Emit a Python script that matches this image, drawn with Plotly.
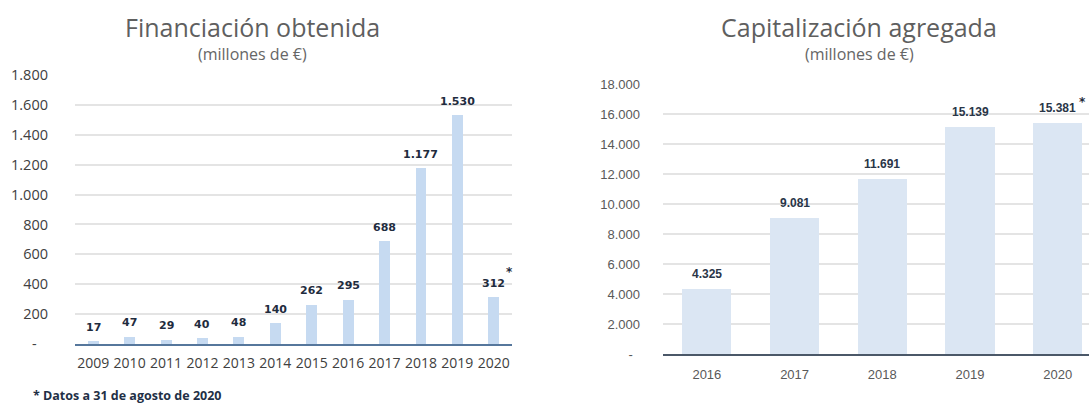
import plotly.graph_objects as go

W, H = 1089, 403
OFF = 0
FW, FH = W - OFF, H - OFF

# ---- data ----
fin_years = ["2009", "2010", "2011", "2012", "2013", "2014", "2015", "2016", "2017", "2018", "2019", "2020"]
fin_values = [17, 47, 29, 40, 48, 140, 262, 295, 688, 1177, 1530, 312]
fin_ticks = [0, 200, 400, 600, 800, 1000, 1200, 1400, 1600, 1800]
fin_ticktext = ["-\u00a0\u00a0\u00a0", "200", "400", "600", "800", "1.000", "1.200", "1.400", "1.600", "1.800"]

cap_years = ["2016", "2017", "2018", "2019", "2020"]
cap_values = [4325, 9081, 11691, 15139, 15381]
cap_ticks = [0, 2000, 4000, 6000, 8000, 10000, 12000, 14000, 16000, 18000]
cap_ticktext = ["-\u00a0\u00a0", "2.000", "4.000", "6.000", "8.000", "10.000", "12.000", "14.000", "16.000", "18.000"]

title_left = "Financiación obtenida"
title_right = "Capitalización agregada"
subtitle = "(millones de €)"
footnote = "* Datos a 31 de agosto de 2020"


def fmt(v):
    return f"{v:,}".replace(",", ".")


def px(x):
    return min(1.0, max(0.0, (x - OFF) / FW))


def py(y):
    return min(1.0, max(0.0, 1 - (y - OFF) / FH))


fig = go.Figure()
fig.add_trace(go.Bar(x=fin_years, y=fin_values, xaxis="x", yaxis="y",
                     marker=dict(color="#c6daf1", line=dict(width=0)), width=0.3,
                     hoverinfo="x+y"))
fig.add_trace(go.Bar(x=cap_years, y=cap_values, xaxis="x2", yaxis="y2",
                     marker=dict(color="#dbe6f3", line=dict(width=0)), width=0.56,
                     hoverinfo="x+y"))

annotations = []
for i, v in enumerate(fin_values):
    annotations.append(dict(x=i, y=v, xref="x", yref="y", text=fmt(v), showarrow=False,
                            yanchor="middle", yshift=14,
                            font=dict(family="DejaVu Sans", size=11, color="#1f2c3e", weight="bold")))
annotations.append(dict(x=len(fin_values) - 1, y=fin_values[-1], xref="x", yref="y", text="*", showarrow=False,
                        yanchor="middle", xshift=16, yshift=25,
                        font=dict(family="DejaVu Sans", size=12, color="#1f2c3e", weight="bold")))
for i, v in enumerate(cap_values):
    annotations.append(dict(x=i, y=v, xref="x2", yref="y2", text=fmt(v), showarrow=False,
                            yanchor="middle", yshift=15,
                            font=dict(family="Liberation Sans", size=12, color="#2a3648", weight="bold")))
annotations.append(dict(x=len(cap_values) - 1, y=cap_values[-1], xref="x2", yref="y2", text="*", showarrow=False,
                        xanchor="center", yanchor="middle", xshift=25, yshift=21,
                        font=dict(family="DejaVu Sans", size=12, color="#1f2c3e", weight="bold")))

# titles
for cx, t in ((252, title_left), (859, title_right)):
    annotations.append(dict(x=px(cx), y=py(27), xref="paper", yref="paper", text=t, showarrow=False,
                            xanchor="center", yanchor="middle",
                            font=dict(family="Open Sans", size=25, color="#5f5f5f")))
    annotations.append(dict(x=px(cx), y=py(54), xref="paper", yref="paper", text=subtitle, showarrow=False,
                            xanchor="center", yanchor="middle",
                            font=dict(family="Open Sans", size=16, color="#666666")))

annotations.append(dict(x=px(31), y=py(395), xref="paper", yref="paper", text=footnote, showarrow=False,
                        xanchor="left", yanchor="middle",
                        font=dict(family="Open Sans", size=12.5, color="#1f3046", weight="bold")))

fig.update_layout(
    width=FW, height=FH,
    margin=dict(l=0, r=0, t=0, b=0, autoexpand=False),
    paper_bgcolor="white", plot_bgcolor="white",
    showlegend=False,
    bargap=0,
    annotations=annotations,
    xaxis=dict(domain=[px(75), px(512)], anchor="y", type="category",
               range=[-0.5, len(fin_years) - 0.5],
               showline=True, linecolor="#56779c", linewidth=2,
               showgrid=False, zeroline=False, ticks="",
               tickfont=dict(family="Open Sans", size=14, color="#404040"),
               ticklabelstandoff=5),
    yaxis=dict(domain=[py(344), py(75)], anchor="x", range=[0, 1800],
               tickvals=fin_ticks, ticktext=fin_ticktext,
               showgrid=True, gridcolor="#e4e4e4", gridwidth=1.5,
               zeroline=False, showline=False, ticks="",
               tickfont=dict(family="Open Sans", size=14.5, color="#404040"),
               ticklabelstandoff=26),
    xaxis2=dict(domain=[px(663), 1.0], anchor="y2", type="category",
                range=[-0.5, 4.356],
                showline=True, linecolor="#4b5868", linewidth=2,
                showgrid=False, zeroline=False, ticks="",
                tickfont=dict(family="Liberation Sans", size=13, color="#595959"),
                ticklabelstandoff=7),
    yaxis2=dict(domain=[py(354), py(84)], anchor="x2", range=[0, 18000],
                tickvals=cap_ticks, ticktext=cap_ticktext,
                showgrid=True, gridcolor="#e4e4e4", gridwidth=1.5,
                zeroline=False, showline=False, ticks="",
                tickfont=dict(family="Liberation Sans", size=13, color="#595959"),
                ticklabelstandoff=22),
)

fig.write_html(
    "out.html",
    config={"displayModeBar": False},
    post_script="document.body.style.margin='0';document.documentElement.style.overflow='hidden';document.body.style.overflow='hidden';",
)
